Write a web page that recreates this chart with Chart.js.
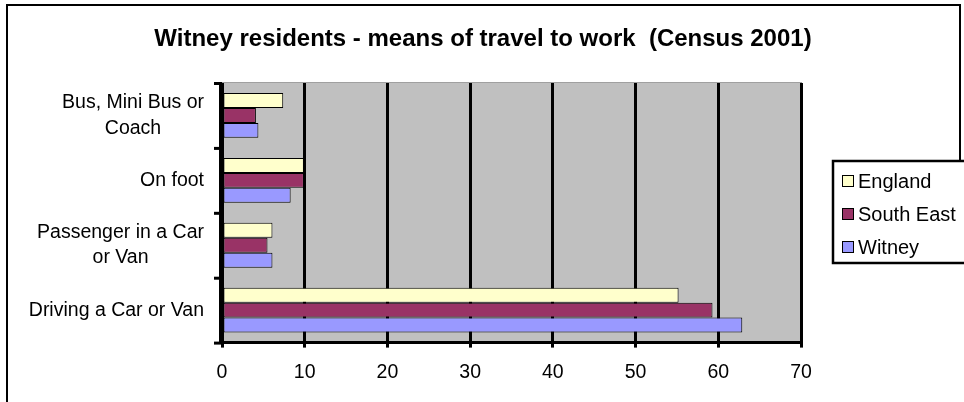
<!DOCTYPE html>
<html>
<head>
<meta charset="utf-8">
<title>Witney residents - means of travel to work</title>
<script src="https://cdn.jsdelivr.net/npm/chart.js@4/dist/chart.umd.min.js"></script>
<style>
  html, body { margin: 0; padding: 0; background: #fff; }
  canvas { display: block; }
</style>
</head>
<body>
<canvas id="chart" width="964" height="402"></canvas>
<script>
// Categories, top to bottom (multi-line labels as arrays of lines)
const categories = [
  ["Bus, Mini Bus or", "Coach"],
  ["On foot"],
  ["Passenger in a Car", "or Van"],
  ["Driving a Car or Van"]
];
const seriesNames = ["England", "South East", "Witney"];
// Percentage of working residents by means of travel
const englandValues   = [7.4, 9.9, 6.1, 55.2];
const southEastValues = [4.1, 9.9, 5.5, 59.3];
const witneyValues    = [4.4, 8.3, 6.1, 62.9];
const xTickValues = [0, 10, 20, 30, 40, 50, 60, 70];
const chartTitle = "Witney residents - means of travel to work  (Census 2001)";

const seriesColors = ["#FFFFCC", "#993366", "#9999FF"];
const FONT = '"Liberation Sans", Arial, Helvetica, sans-serif';

const decor = {
  id: 'decor',
  beforeDraw(chart) {
    const { ctx, chartArea: a } = chart;
    ctx.save();
    ctx.fillStyle = '#fff';
    ctx.fillRect(0, 0, chart.width, chart.height);
    // grey plot area
    ctx.fillStyle = '#C0C0C0';
    ctx.fillRect(a.left, a.top, a.right - a.left, a.bottom - a.top);
    ctx.strokeStyle = '#A0A0A0';
    ctx.lineWidth = 1;
    ctx.beginPath();
    ctx.moveTo(a.left, a.top - 0.5);
    ctx.lineTo(a.right + 1, a.top - 0.5);
    ctx.stroke();
    ctx.restore();
  },
  afterDatasetsDraw(chart) {
    const { ctx, chartArea: a } = chart;
    const y = chart.scales.y;
    ctx.save();
    ctx.strokeStyle = '#000';
    ctx.lineWidth = 3;
    // value axis line on the left
    ctx.beginPath();
    ctx.moveTo(a.left - 1.5, a.top);
    ctx.lineTo(a.left - 1.5, a.bottom + 1.5);
    ctx.stroke();
    // tick marks between categories
    const n = categories.length;
    const bounds = [a.top];
    for (let i = 0; i < n - 1; i++) {
      bounds.push((y.getPixelForTick(i) + y.getPixelForTick(i + 1)) / 2);
    }
    bounds.push(a.bottom);
    bounds.forEach(b => {
      ctx.beginPath();
      ctx.moveTo(a.left - 8, b + 0.5);
      ctx.lineTo(a.left, b + 0.5);
      ctx.stroke();
    });
    ctx.restore();
  },
  afterDraw(chart) {
    const { ctx, chartArea: a } = chart;
    const y = chart.scales.y;
    ctx.save();

    // outer frame
    ctx.strokeStyle = '#000';
    ctx.lineWidth = 2;
    ctx.beginPath();
    ctx.moveTo(7, chart.height + 2);
    ctx.lineTo(7, 5);
    ctx.lineTo(960, 5);
    ctx.lineTo(960, 162);
    ctx.stroke();

    // title
    ctx.fillStyle = '#000';
    ctx.font = 'bold 24px ' + FONT;
    ctx.textAlign = 'center';
    ctx.textBaseline = 'middle';
    ctx.fillText(chartTitle, 483, 39);

    // category labels: block right-aligned, lines centred within the block
    ctx.font = '19.5px ' + FONT;
    const lineH = 25.5;
    categories.forEach((lines, i) => {
      const cy = y.getPixelForTick(i);
      const w = Math.max(...lines.map(l => ctx.measureText(l).width));
      const cx = a.left - 18 - w / 2;
      lines.forEach((l, k) => {
        ctx.fillText(l, cx, cy + (k - (lines.length - 1) / 2) * lineH);
      });
    });

    // legend
    const lx = 833, ly = 161, lw = 140, lh = 102;
    ctx.fillStyle = '#fff';
    ctx.fillRect(lx, ly, lw, lh);
    ctx.lineWidth = 2.5;
    ctx.strokeStyle = '#000';
    ctx.strokeRect(lx, ly, lw, lh);
    ctx.font = '20px ' + FONT;
    ctx.textAlign = 'left';
    seriesNames.forEach((name, i) => {
      const cy = 181 + i * 33;
      ctx.fillStyle = seriesColors[i];
      ctx.fillRect(842, cy - 6, 12, 12);
      ctx.lineWidth = 1;
      ctx.strokeStyle = '#000';
      ctx.strokeRect(842.5, cy - 5.5, 11, 11);
      ctx.fillStyle = '#000';
      ctx.fillText(name, 858, cy + 1);
    });
    ctx.restore();
  }
};

new Chart(document.getElementById('chart'), {
  type: 'bar',
  data: {
    labels: categories,
    datasets: [
      { label: seriesNames[0], data: englandValues,   backgroundColor: seriesColors[0] },
      { label: seriesNames[1], data: southEastValues, backgroundColor: seriesColors[1] },
      { label: seriesNames[2], data: witneyValues,    backgroundColor: seriesColors[2] }
    ].map(d => Object.assign(d, {
      borderColor: '#000',
      borderWidth: 1,
      borderSkipped: false,
      categoryPercentage: 0.69,
      barPercentage: 1.0
    }))
  },
  options: {
    indexAxis: 'y',
    responsive: false,
    animation: false,
    devicePixelRatio: 1,
    layout: { padding: { left: 222, right: 163, top: 83, bottom: 5 } },
    plugins: {
      legend: { display: false },
      title: { display: false },
      tooltip: { enabled: false }
    },
    scales: {
      x: {
        min: 0,
        max: 70,
        afterBuildTicks: scale => { scale.ticks = xTickValues.map(v => ({ value: v })); },
        ticks: {
          color: '#000',
          font: { family: FONT, size: 19.5 },
          padding: 13,
          maxRotation: 0,
          autoSkip: false
        },
        grid: {
          color: '#000',
          lineWidth: 3,
          tickColor: '#000',
          tickWidth: 3,
          tickLength: 5,
          drawTicks: true
        },
        border: { display: true, color: '#000', width: 3 }
      },
      y: {
        display: false
      }
    }
  },
  plugins: [decor]
});
</script>
</body>
</html>
